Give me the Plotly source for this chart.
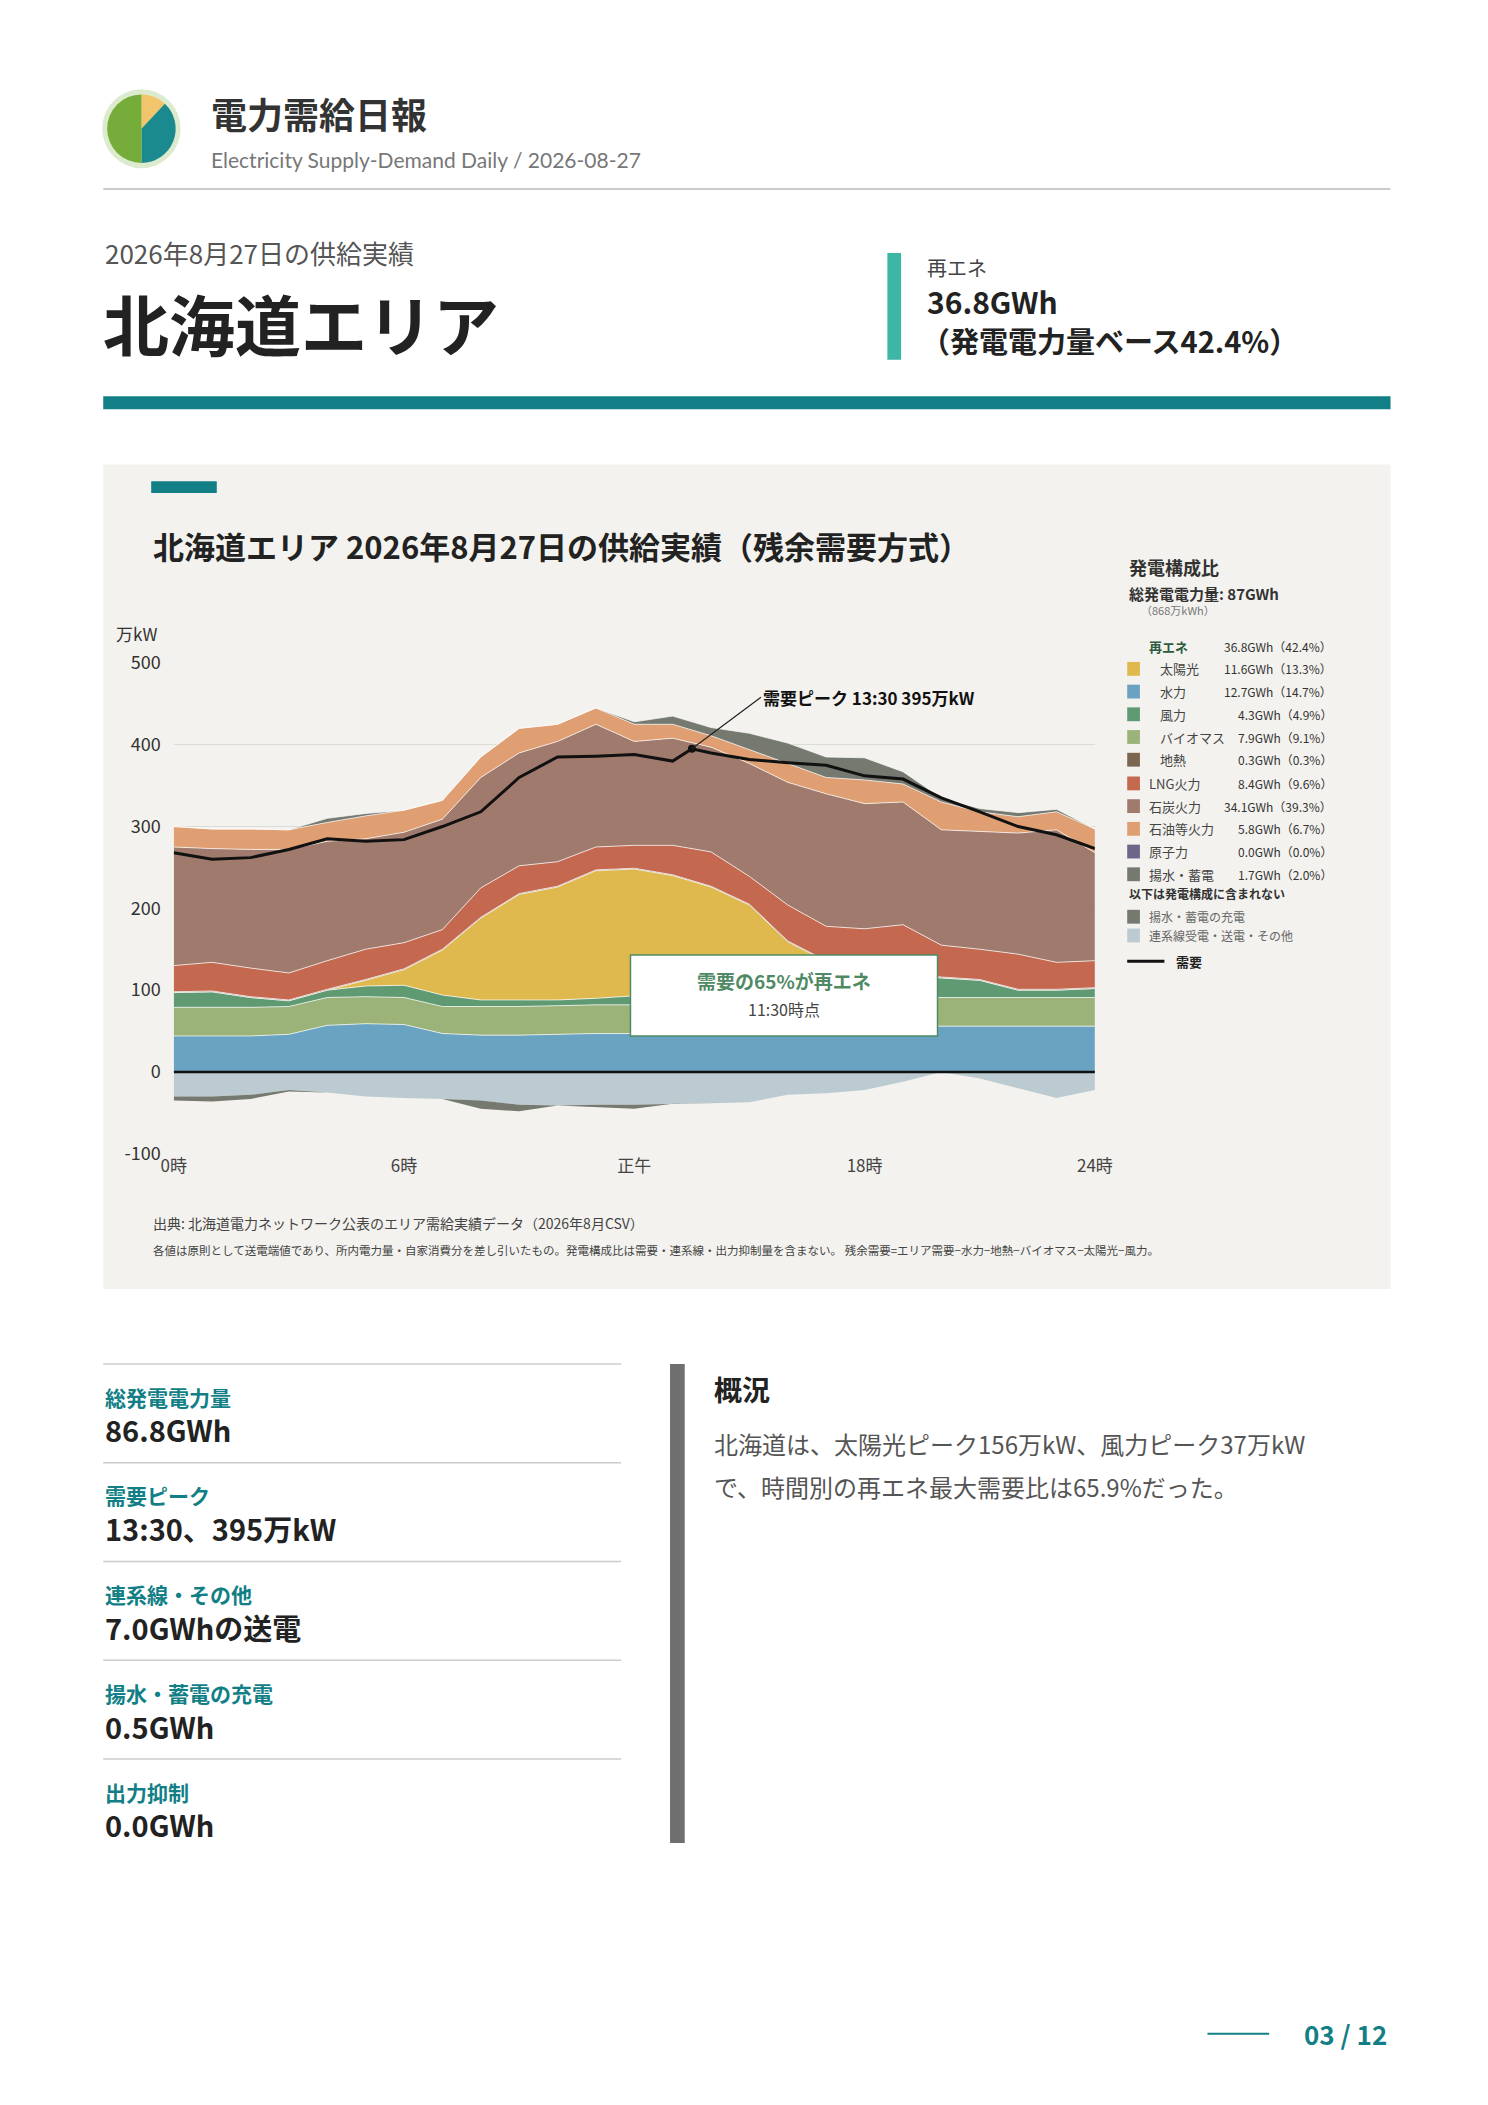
import plotly.graph_objects as go

W, H = 1472, 2089
OFF = 8
def px(x): return (x - OFF) / W
def py(y): return 1 - (y - OFF) / H

hours = list(range(25))
hydro      = [44,44,44,46,57,59,58,47,45,45,46,47,47,47,47,47,47,52,56,56,56,56,56,56,56]
biomass    = [35,35,35,34,34,33,33,33,35,35,35,35,35,36,36,36,36,38,36,35,35,35,35,35,35]
wind       = [18,19,12,7,9,13,15,14,8,8,7,8,11,12,12,12,12,25,28,27,24,21,9,9,11]
solar      = [0,0,0,0,0,7,19,55,100,129,138,156,155,145,131,109,64,20,0,0,0,0,0,0,0]
geothermal = [1]*25
lng        = [32,35,35,33,35,37,32,24,36,34,30,28,28,36,42,34,44,42,54,61,39,37,43,33,33]
coal       = [145,139,145,151,146,135,135,135,135,138,147,150,127,131,128,138,150,162,153,150,141,144,148,162,132]
oil        = [25,24,25,24,23,28,27,23,25,30,21,20,21,17,14,17,23,20,29,22,34,24,20,22,29]
pumped_gen = [0,0,0,0,5,3,0,0,0,0,0,0,3,10,10,20,25,25,27,15,5,4,5,3,0]
interconn  = [-30,-30,-28,-22,-25,-30,-32,-33,-35,-40,-41,-40,-40,-39,-38,-37,-28,-26,-22,-12,0,-8,-20,-32,-22]
pump_chg   = [-5,-6,-5,-2,0,0,0,0,-10,-8,0,-3,-5,0,0,0,0,0,0,0,0,0,0,0,0]
demand_x   = [0,1,2,3,4,5,6,7,8,9,10,11,12,13,13.5,14,15,16,17,18,19,20,21,22,23,24]
demand     = [268,260,262,272,285,282,284,300,318,360,385,386,388,380,395,390,382,378,375,362,358,335,318,300,290,273]
tick_vals  = [0,6,12,18,24]
tick_text  = ["0時","6時","正午","18時","24時"]
y_ticks    = [-100,0,100,200,300,400,500]
y_text     = ["-100","0","100","200","300","400","500"]

legend_rows = [
    ("再エネ", None, "36.8GWh（42.4%）", True),
    ("太陽光", "#e0b94e", "11.6GWh（13.3%）", False),
    ("水力", "#6aa3c2", "12.7GWh（14.7%）", False),
    ("風力", "#5f9a73", "4.3GWh（4.9%）", False),
    ("バイオマス", "#9bb279", "7.9GWh（9.1%）", False),
    ("地熱", "#7d6650", "0.3GWh（0.3%）", False),
    ("LNG火力", "#c4694f", "8.4GWh（9.6%）", None),
    ("石炭火力", "#a07b6d", "34.1GWh（39.3%）", None),
    ("石油等火力", "#e09f72", "5.8GWh（6.7%）", None),
    ("原子力", "#6e6589", "0.0GWh（0.0%）", None),
    ("揚水・蓄電", "#75796f", "1.7GWh（2.0%）", None),
]
stats = [("総発電電力量", "86.8GWh"), ("需要ピーク", "13:30、395万kW"),
         ("連系線・その他", "7.0GWhの送電"), ("揚水・蓄電の充電", "0.5GWh"), ("出力抑制", "0.0GWh")]

FONT = "Noto Sans CJK JP"
fig = go.Figure()
pos = [("水力", hydro, "#6aa3c2"), ("バイオマス", biomass, "#9bb279"), ("風力", wind, "#5f9a73"),
       ("太陽光", solar, "#e0b94e"), ("地熱", geothermal, "#7d6650"), ("LNG火力", lng, "#c4694f"),
       ("石炭火力", coal, "#a07b6d"), ("石油等火力", oil, "#e09f72"), ("揚水・蓄電", pumped_gen, "#75796f")]
for name, vals, col in pos:
    fig.add_trace(go.Scatter(x=hours, y=vals, name=name, stackgroup="pos", mode="lines",
                             line=dict(width=1, color="rgba(255,255,255,0.7)"), fillcolor=col))
for name, vals, col in [("連系線", interconn, "#bccbd1"), ("揚水充電", pump_chg, "#75796f")]:
    fig.add_trace(go.Scatter(x=hours, y=vals, name=name, stackgroup="neg", mode="lines",
                             line=dict(width=0, color=col), fillcolor=col))
fig.add_trace(go.Scatter(x=[0, 24], y=[0, 0], mode="lines", line=dict(color="#111", width=2.5)))
fig.add_trace(go.Scatter(x=demand_x, y=demand, mode="lines", line=dict(color="#111", width=3)))
fig.add_trace(go.Scatter(x=[13.5], y=[395], mode="markers", marker=dict(color="#111", size=8)))
fig.add_trace(go.Pie(values=[12, 38, 50], marker=dict(colors=["#f2c46b", "#1b8a8f", "#76ad3a"]),
                     sort=False, direction="clockwise", rotation=0, textinfo="none", hoverinfo="skip",
                     domain=dict(x=[px(96), px(166)], y=[py(150), py(80)])))

fig.update_layout(
    width=W, height=H, margin=dict(l=0, r=0, t=0, b=0), showlegend=False,
    paper_bgcolor="white", plot_bgcolor="#fbfaf5", font=dict(family=FONT, color="#333"),
    xaxis=dict(domain=[px(164), px(1105)], range=[0, 24], tickvals=tick_vals, ticktext=tick_text,
               showgrid=False, zeroline=False, tickfont=dict(size=17, color="#444")),
    yaxis=dict(domain=[py(1153), py(656)], range=[-100, 500], tickvals=y_ticks, ticktext=y_text,
               gridcolor="#dcdcd6", zeroline=False, tickfont=dict(size=18, color="#333"), ticks="",
               ticklabelstandoff=12),
)

shapes = [
    dict(type="circle", xref="paper", yref="paper", x0=px(91), x1=px(171), y0=py(155), y1=py(75),
         fillcolor="#dcebcd", line=dict(width=0), layer="below"),
    dict(type="line", xref="paper", yref="paper", x0=px(92), x1=px(1407), y0=py(176), y1=py(176),
         line=dict(color="#bbb", width=1.5)),
    dict(type="rect", xref="paper", yref="paper", x0=px(893), x1=px(907), y0=py(349), y1=py(241),
         fillcolor="#3db6a6", line=dict(width=0)),
    dict(type="rect", xref="paper", yref="paper", x0=px(92), x1=px(1407), y0=py(399), y1=py(386),
         fillcolor="#127f86", line=dict(width=0)),
    dict(type="rect", xref="paper", yref="paper", x0=px(92), x1=px(1407), y0=py(1290), y1=py(455),
         fillcolor="#f3f2ee", line=dict(width=0), layer="below"),
    dict(type="rect", xref="paper", yref="paper", x0=px(141), x1=px(208), y0=py(484), y1=py(472),
         fillcolor="#127f86", line=dict(width=0)),
    dict(type="rect", xref="x", yref="y", x0=11.9, x1=19.9, y0=44, y1=143,
         fillcolor="white", line=dict(color="#4f8a64", width=1.5)),
    dict(type="rect", xref="paper", yref="paper", x0=px(671), x1=px(686), y0=py(1851), y1=py(1366),
         fillcolor="#6f6f6f", line=dict(width=0)),
    dict(type="line", xref="paper", yref="paper", x0=px(1220), x1=px(1283), y0=py(2044), y1=py(2044),
         line=dict(color="#127f86", width=2)),
]
ann = []
def T(x, y, text, size, color="#333", bold=False, xa="left", ya="middle", font=FONT):
    ann.append(dict(xref="paper", yref="paper", x=px(x), y=py(y), text=f"<b>{text}</b>" if bold else text,
                    showarrow=False, xanchor=xa, yanchor=ya, font=dict(size=size, color=color, family=font)))

T(200, 99, "電力需給日報", 36, "#333", True)
T(200, 146, "Electricity Supply-Demand Daily / 2026-08-27", 21, "#777", font="Lato")
T(92, 240, "2026年8月27日の供給実績", 26, "#555")
T(90, 311, "北海道エリア", 66, "#222", True)
T(931, 256, "再エネ", 20, "#444")
T(931, 290, "36.8GWh", 30, "#222", True)
T(925, 329, "（発電電力量ベース42.4%）", 29, "#222", True)
T(141, 537, "北海道エリア 2026年8月27日の供給実績（残余需要方式）", 31, "#222", True)
T(103, 626, "万kW", 17, "#333")
T(1138, 559, "発電構成比", 18, "#333", True)
T(1138, 586, "総発電電力量: 87GWh", 15, "#333", True)
T(1150, 602, "（868万kWh）", 11, "#777")
ys = [639, 662, 685, 708, 731, 754, 778, 801, 824, 847, 870]
for (lab, col, val, ren), y in zip(legend_rows, ys):
    if col:
        shapes.append(dict(type="rect", xref="paper", yref="paper", x0=px(1138), x1=px(1151),
                           y0=py(y + 7), y1=py(y - 7), fillcolor=col, line=dict(width=0)))
    if ren is True:
        T(1158, y, lab, 13, "#2f5a3d", True)
    else:
        T(1169 if ren is False else 1158, y, lab, 13, "#444")
    T(1349, y, val, 12, "#333", xa="right")
T(1138, 889, "以下は発電構成に含まれない", 12, "#333", True)
for y, col, lab in [(913, "#75796f", "揚水・蓄電の充電"), (932, "#bccbd1", "連系線受電・送電・その他")]:
    shapes.append(dict(type="rect", xref="paper", yref="paper", x0=px(1138), x1=px(1151),
                       y0=py(y + 7), y1=py(y - 7), fillcolor=col, line=dict(width=0)))
    T(1158, y, lab, 12, "#666")
shapes.append(dict(type="line", xref="paper", yref="paper", x0=px(1138), x1=px(1176), y0=py(958), y1=py(958),
                   line=dict(color="#111", width=3)))
T(1186, 958, "需要", 13, "#222", True)
T(141, 1223, "出典: 北海道電力ネットワーク公表のエリア需給実績データ（2026年8月CSV）", 14, "#444")
T(141, 1250, "各値は原則として送電端値であり、所内電力量・自家消費分を差し引いたもの。発電構成比は需要・連系線・出力抑制量を含まない。 残余需要=エリア需要−水力−地熱−バイオマス−太陽光−風力。", 11.5, "#444")

for i, (lab, val) in enumerate(stats):
    y0 = 1366 + i * 100
    shapes.append(dict(type="line", xref="paper", yref="paper", x0=px(92), x1=px(621), y0=py(y0), y1=py(y0),
                       line=dict(color="#ccc", width=1.5)))
    T(92, y0 + 33, lab, 21, "#127f86", True)
    T(92, y0 + 66, val, 29, "#222", True)
T(714, 1391, "概況", 28, "#222", True)
T(714, 1446, "北海道は、太陽光ピーク156万kW、風力ピーク37万kW", 24, "#555")
T(714, 1490, "で、時間別の再エネ最大需要比は65.9%だった。", 24, "#555")
T(1405, 2044, "03 / 12", 26, "#127f86", True, xa="right")

ann.append(dict(xref="x", yref="y", x=15.9, y=112, text="<b>需要の65%が再エネ</b>", showarrow=False,
                font=dict(size=19, color="#4f8a64")))
ann.append(dict(xref="x", yref="y", x=15.9, y=77, text="11:30時点", showarrow=False,
                font=dict(size=16, color="#444")))
ann.append(dict(xref="x", yref="y", x=13.5, y=395, ax=15.3, ay=458, axref="x", ayref="y",
                text="<b>需要ピーク 13:30 395万kW</b>", showarrow=True, arrowhead=0, arrowwidth=1.2,
                arrowcolor="#222", xanchor="left", font=dict(size=17, color="#111")))
fig.update_layout(shapes=shapes, annotations=ann)
fig.write_html("out.html")
